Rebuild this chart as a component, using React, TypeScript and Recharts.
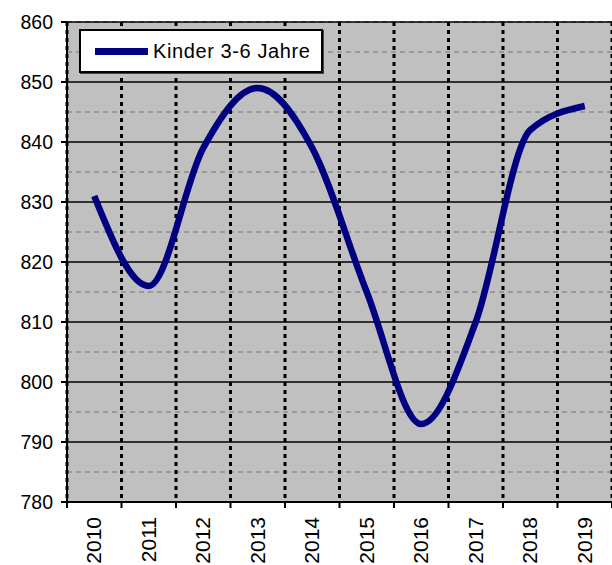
import { ComposedChart, Line, XAxis, YAxis, CartesianGrid, Legend } from 'recharts'

const years = ['2010', '2011', '2012', '2013', '2014', '2015', '2016', '2017', '2018', '2019']
const kinder = [831, 816, 839, 849, 839, 815, 793, 810, 842, 846]
const majorTicks = [780, 790, 800, 810, 820, 830, 840, 850, 860]
const minorTicks = [785, 795, 805, 815, 825, 835, 845, 855]
const seriesName = 'Kinder 3-6 Jahre'

// category i sits in the middle of band [i, i+1]
const data = years.map((year, i) => ({ pos: i + 0.5, year, value: kinder[i] }))
const labelTicks = data.map((d) => d.pos)
const boundTicks = years.map((_, i) => i).concat(years.length)

const FONT = '"Liberation Sans", Arial, sans-serif'

function EmptyTick() {
  return <g />
}

function YearTick(props: any) {
  const { x, y, payload } = props
  const label = years[Math.floor(payload.value)]
  return (
    <text
      x={x + 7}
      y={y}
      transform={`rotate(-90, ${x + 7}, ${y})`}
      textAnchor="end"
      fontSize={21}
      fontFamily={FONT}
      fill="#000"
    >
      {label}
    </text>
  )
}

function LegendBox() {
  return (
    <div
      style={{
        width: 240,
        height: 40,
        background: '#fff',
        border: '2px solid #000',
        boxShadow: '1px 1px 0 #444',
        display: 'flex',
        alignItems: 'center',
        fontFamily: FONT,
        fontSize: 20,
        letterSpacing: 0.6,
        color: '#000',
      }}
    >
      <span style={{ display: 'inline-block', width: 53, height: 7, background: '#000080', marginLeft: 14, marginRight: 5 }} />
      <span>{seriesName}</span>
    </div>
  )
}

export default function App() {
  return (
    <div style={{ position: 'fixed', left: 0, top: 0, width: 612, height: 565, background: '#fff', overflow: 'hidden' }}>
      <ComposedChart
        width={612}
        height={565}
        data={data}
        margin={{ top: 22, right: 0, bottom: 0, left: 0 }}
        style={{ fontFamily: FONT }}
      >
        <XAxis
          xAxisId="bounds"
          type="number"
          dataKey="pos"
          domain={[0, years.length]}
          ticks={boundTicks}
          tick={<EmptyTick />}
          tickSize={6}
          tickLine={{ stroke: '#000', strokeWidth: 2 }}
          axisLine={{ stroke: '#000', strokeWidth: 2 }}
          height={6}
          allowDataOverflow
        />
        <XAxis
          xAxisId="labels"
          type="number"
          dataKey="pos"
          domain={[0, years.length]}
          ticks={labelTicks}
          tick={<YearTick />}
          tickLine={false}
          axisLine={false}
          tickSize={0}
          tickMargin={9}
          height={57}
          allowDataOverflow
        />
        <YAxis
          domain={[780, 860]}
          ticks={majorTicks}
          width={67}
          tickSize={6}
          tickMargin={8}
          tick={{ fill: '#000', fontSize: 19.5, fontFamily: FONT }}
          tickLine={{ stroke: '#000', strokeWidth: 2 }}
          axisLine={{ stroke: '#000', strokeWidth: 2 }}
          allowDataOverflow
        />
        <YAxis yAxisId="minor" domain={[780, 860]} ticks={minorTicks} hide allowDataOverflow />

        <CartesianGrid
          xAxisId="bounds"
          yAxisId="minor"
          vertical={false}
          fill="#c0c0c0"
          fillOpacity={1}
          stroke="#999"
          strokeDasharray="5 4"
          strokeWidth={2}
        />
        <CartesianGrid xAxisId="bounds" vertical={false} stroke="#000" strokeWidth={1.5} />
        <CartesianGrid
          xAxisId="bounds"
          horizontal={false}
          stroke="#000"
          strokeWidth={3}
          strokeDasharray="4 4"
        />

        <Legend
          layout="horizontal"
          verticalAlign="middle"
          align="center"
          content={() => <LegendBox />}
          wrapperStyle={{ left: 79, top: 29, width: 'auto' }}
        />

        <Line
          xAxisId="labels"
          type="monotone"
          dataKey="value"
          name={seriesName}
          stroke="#000080"
          strokeWidth={6.5}
          dot={false}
          activeDot={false}
          isAnimationActive={false}
        />
      </ComposedChart>
    </div>
  )
}
